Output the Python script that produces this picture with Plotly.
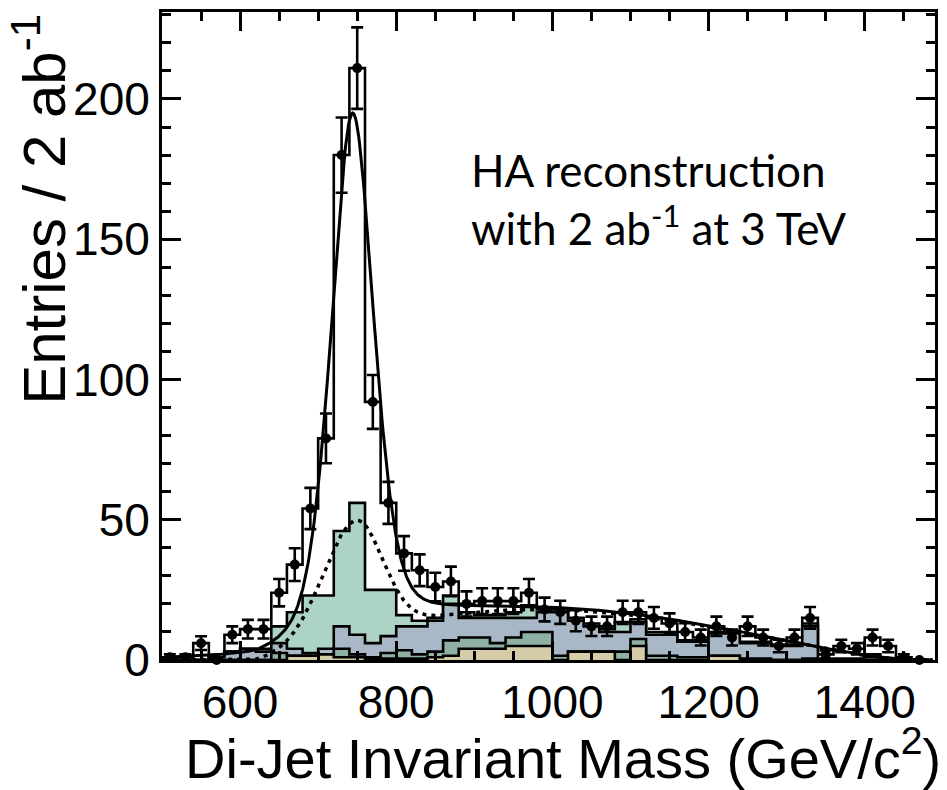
import numpy as np
import plotly.graph_objects as go

# ---- binning: 20 GeV bins from 500 to 1480 GeV ----
bin_lo = 500
bin_width = 20
n_bins = 49

# pseudo-data entries per bin
data_counts = [1, 1, 6, 0, 9, 11, 11, 24, 34, 54,
               79, 180, 211, 92, 56, 38, 32, 26, 28, 20,
               21, 21, 21, 24, 18, 17, 14, 12, 12, 17,
               17, 15, 13, 10, 8, 12, 8, 12, 8, 5,
               8, 15, 2, 5, 4, 8, 5, 1, 0]

# background components (stacked bottom -> top)
bkg_beige = [0, 0, 0, 0, 0, 0, 0, 0, 1.5, 1.5,
             2, 1, 1, 0.5, 0.5, 0.5, 0.5, 1, 1.5, 4,
             4, 4, 5, 5, 5, 0, 3, 3, 3, 0,
             5, 0, 0, 0, 0, 1.5, 1.5, 0, 0, 0,
             0, 0, 0, 0, 0, 0, 0, 0, 0]
bkg_dark = [0, 0, 0, 0, 0, 0, 0, 2.5, 0, 0,
            0, 3, 1, 0.5, 2, 3, 1.5, 2, 5.5, 4,
            4, 2, 3, 5, 5, 1.5, 0, 0, 0, 3,
            2.5, 1.5, 1.5, 1, 1, 0, 0, 0.5, 0.5, 0,
            0, 0.5, 0, 0, 0, 1, 0, 0, 0]
bkg_gray = [0, 0, 0, 1, 3, 4, 3, 3.5, 2.5, 1,
            2, 8, 7, 5, 6, 8.5, 10, 11, 13, 7,
            7, 9, 7, 5, 7, 15.5, 11, 9, 7, 7,
            6, 7.5, 7.5, 5.5, 5.5, 8, 8, 5.5, 5.5, 5,
            5, 11.5, 0, 0, 0, 0, 0, 0, 0]
bkg_teal = [0, 0, 0, 0, 0, 0, 1, 6, 13, 20.5,
            19, 34, 47, 19, 16.5, 4, 2, 1, 3, 2,
            1, 1, 2, 4.5, 1, 1, 1, 1, 1, 3.5,
            1, 1, 1, 0.5, 0.5, 0.5, 0.5, 0.5, 0.5, 0.5,
            0.5, 1, 0, 0.5, 0.5, 1, 0.5, 0, 0]

# fit parameters
sig_amp, sig_mean, sig_sigma, sig_gamma, sig_eta = 185.5, 744.0, 28.0, 60.0, 0.35
bkg_norm, bkg_lo, bkg_hi, bkg_a, bkg_b = 121.8, 620.0, 1460.0, 1.2, 1.6
pk2_amp, pk2_mean, pk2_sig_lo, pk2_sig_hi = 40.0, 748.0, 41.0, 34.0

colors = {
    "beige": "#d6cda8",
    "dark": "#8fb1a4",
    "gray": "#a9b8c6",
    "teal": "#acd3c4",
}

edges = bin_lo + bin_width * np.arange(n_bins + 1)
centers = edges[:-1] + bin_width / 2


def step_xy(vals):
    v = list(vals)
    x = [edges[0]] + list(edges) + [edges[-1]]
    y = [0] + v + [v[-1]] + [0]
    return x, y


def bkg_shape(x):
    t = (x - bkg_lo) / (bkg_hi - bkg_lo)
    t = np.clip(t, 0, 1)
    return bkg_norm * t ** bkg_a * (1 - t) ** bkg_b


def signal_shape(x):
    lor = 1.0 / (1.0 + (2 * (x - sig_mean) / sig_gamma) ** 2)
    gau = np.exp(-0.5 * ((x - sig_mean) / sig_sigma) ** 2)
    return sig_amp * (sig_eta * lor + (1 - sig_eta) * gau)


def peak2_shape(x):
    s = np.where(x < pk2_mean, pk2_sig_lo, pk2_sig_hi)
    return pk2_amp * np.exp(-0.5 * ((x - pk2_mean) / s) ** 2)


fig = go.Figure()

line_k = dict(color="black", width=2.6, shape="hv")

# data drawn as a white-filled step histogram
x, y = step_xy(data_counts)
fig.add_trace(go.Scatter(x=x, y=y, mode="lines", line=line_k,
                         fill="tozeroy", fillcolor="white", showlegend=False))

# stacked backgrounds: draw cumulative tops from the top layer down
b1 = np.array(bkg_beige)
b2 = b1 + np.array(bkg_dark)
b3 = b2 + np.array(bkg_gray)
b4 = b3 + np.array(bkg_teal)
for vals, key in [(b4, "teal"), (b3, "gray"), (b2, "dark"), (b1, "beige")]:
    x, y = step_xy(vals)
    fig.add_trace(go.Scatter(x=x, y=y, mode="lines", line=line_k,
                             fill="tozeroy", fillcolor=colors[key],
                             showlegend=False))

# fit curves
xf = np.arange(504, 1488, 1.0)
fig.add_trace(go.Scatter(x=xf, y=peak2_shape(xf) + bkg_shape(xf), mode="lines",
                         line=dict(color="black", width=3.5, dash="4px,5px"),
                         showlegend=False))
fig.add_trace(go.Scatter(x=xf, y=signal_shape(xf) + bkg_shape(xf), mode="lines",
                         line=dict(color="black", width=3), showlegend=False))

# data points with Poisson errors
cnt = np.array(data_counts, dtype=float)
fig.add_trace(go.Scatter(
    x=centers, y=cnt, mode="markers",
    marker=dict(color="black", size=10, symbol="circle"),
    error_y=dict(type="data", array=np.sqrt(cnt), color="black",
                 thickness=2.6, width=6),
    showlegend=False, cliponaxis=False))

font_axis = "Liberation Sans, Arial, sans-serif"
axis_common = dict(
    showline=True, linecolor="black", linewidth=3, mirror="allticks",
    ticks="inside", tickwidth=3, tickcolor="black",
    showgrid=False, zeroline=False,
    tickfont=dict(family=font_axis, size=46, color="black"),
)
fig.update_xaxes(range=[500, 1490], tick0=0, dtick=200, ticklen=19,
                 minor=dict(dtick=50, ticklen=9, ticks="inside",
                            tickwidth=3, tickcolor="black"),
                 **axis_common)
fig.update_yaxes(range=[0, 231], tick0=0, dtick=50, ticklen=19,
                 minor=dict(dtick=10, ticklen=9, ticks="inside",
                            tickwidth=3, tickcolor="black"),
                 **axis_common)

fig.add_annotation(
    text="Di-Jet Invariant Mass (GeV/c<sup>2</sup>)",
    xref="paper", yref="paper", x=1.01, y=-0.088,
    xanchor="right", yanchor="top", showarrow=False,
    font=dict(family=font_axis, size=56, color="black"))
fig.add_annotation(
    text="Entries / 2 ab<sup>-1</sup>",
    xref="paper", yref="paper", x=-0.1587, y=1.0,
    xanchor="center", yanchor="top", textangle=-90, showarrow=False,
    font=dict(family=font_axis, size=60, color="black"))

font_note = "Lato, Open Sans, sans-serif"
fig.add_annotation(text="HA reconstruction", xref="x", yref="y",
                   x=893, y=174.5, xanchor="left", yanchor="middle",
                   showarrow=False,
                   font=dict(family=font_note, size=44, color="black"))
fig.add_annotation(text="with 2 ab<sup>-1</sup> at 3 TeV", xref="x", yref="y",
                   x=893, y=155, xanchor="left", yanchor="middle",
                   showarrow=False,
                   font=dict(family=font_note, size=44, color="black"))

fig.update_layout(
    width=947, height=790,
    margin=dict(l=162, r=10, t=9, b=130),
    plot_bgcolor="white", paper_bgcolor="white",
)

fig.write_html("out.html")
